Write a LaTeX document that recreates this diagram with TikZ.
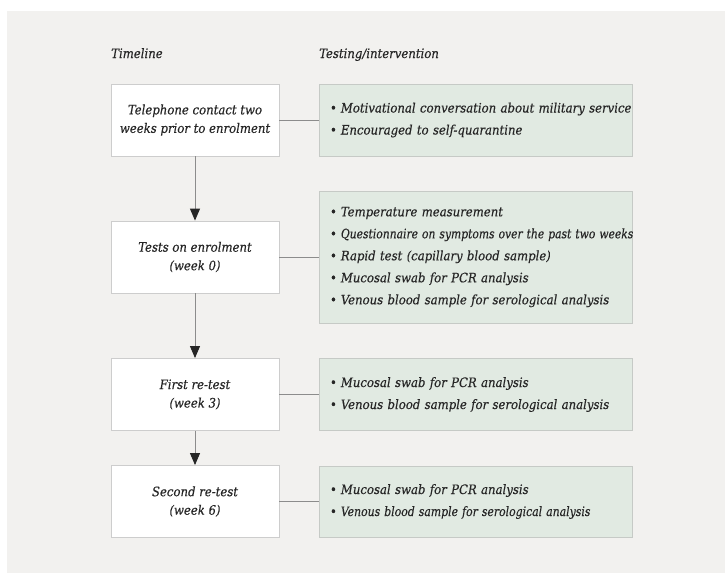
\documentclass[tikz,border=0pt]{standalone}
\usepackage{fontspec}
\setmainfont{DejaVu Serif Condensed}
\newfontfamily\dfont{DejaVu Serif Condensed}[FakeBold=0.3]
\usetikzlibrary{arrows.meta}
\definecolor{bg}{HTML}{F2F1EF}
\definecolor{gfill}{HTML}{E1EAE2}
\definecolor{gborder}{HTML}{C6CAC6}
\definecolor{lborder}{HTML}{CDCDCD}
\definecolor{txt}{HTML}{262626}
\definecolor{conncol}{HTML}{8C8C8C}
\definecolor{tipcol}{HTML}{262626}
\newcommand{\itm}[1]{\textbullet\hspace{4pt}\mbox{#1}}
\begin{document}
\begin{tikzpicture}[x=1pt,y=-1pt,
  lbox/.style={draw=lborder, fill=white, line width=0.9pt, minimum width=168pt,
    minimum height=72pt, inner sep=0pt, align=center, text=txt,
    font=\dfont\itshape\fontsize{13}{18.5}\selectfont},
  gbox/.style={draw=gborder, fill=gfill, line width=0.9pt, inner xsep=11pt,
    inner ysep=0pt, text width=291pt, align=left, text=txt,
    font=\dfont\itshape\fontsize{13}{22}\selectfont},
  head/.style={anchor=base west, inner sep=0pt, text=txt,
    font=\dfont\itshape\fontsize{13}{15}\selectfont},
  conn/.style={draw=conncol, line width=0.9pt},
  arr/.style={draw=conncol, line width=0.9pt,
    -{Triangle[width=10pt,length=12pt,color=tipcol]}}]
\fill[white] (0,0) rectangle (725,574);
\fill[bg] (7,11) rectangle (725,573);

\node[head] (h1) at (111,58) {Timeline};
\node[head] (h2) at (319,58) {Testing/intervention};

\node[lbox] (t1) at (195,120) {Telephone contact two\\weeks prior to enrolment};
\node[lbox] (t2) at (195,257) {Tests on enrolment\\(week 0)};
\node[lbox] (t3) at (195,394.5) {First re-test\\(week 3)};
\node[lbox] (t4) at (195,501.5) {Second re-test\\(week 6)};

\node[gbox, minimum height=72pt] (g1) at (475.5,120) {%
\itm{Motivational conversation about military service}\\
\itm{Encouraged to self-quarantine}};
\node[gbox, minimum height=132pt] (g2) at (475.5,257) {%
\itm{Temperature measurement}\\
\itm{\scalebox{0.92}[1]{Questionnaire on symptoms over the past two weeks}}\\
\itm{Rapid test (capillary blood sample)}\\
\itm{Mucosal swab for PCR analysis}\\
\itm{Venous blood sample for serological analysis}};
\node[gbox, minimum height=72pt] (g3) at (475.5,394.5) {%
\itm{Mucosal swab for PCR analysis}\\
\itm{Venous blood sample for serological analysis}};
\node[gbox, minimum height=71pt] (g4) at (475.5,501.5) {%
\itm{Mucosal swab for PCR analysis}\\
\itm{\scalebox{0.93}[1]{Venous blood sample for serological analysis}}};

\draw[conn] (t1.east) -- (g1.west);
\draw[conn] (t2.east) -- (g2.west);
\draw[conn] (t3.east) -- (g3.west);
\draw[conn] (t4.east) -- (g4.west);

\draw[arr] (t1.south) -- (t2.north);
\draw[arr] (t2.south) -- (t3.north);
\draw[arr] (t3.south) -- (t4.north);
\end{tikzpicture}
\end{document}
